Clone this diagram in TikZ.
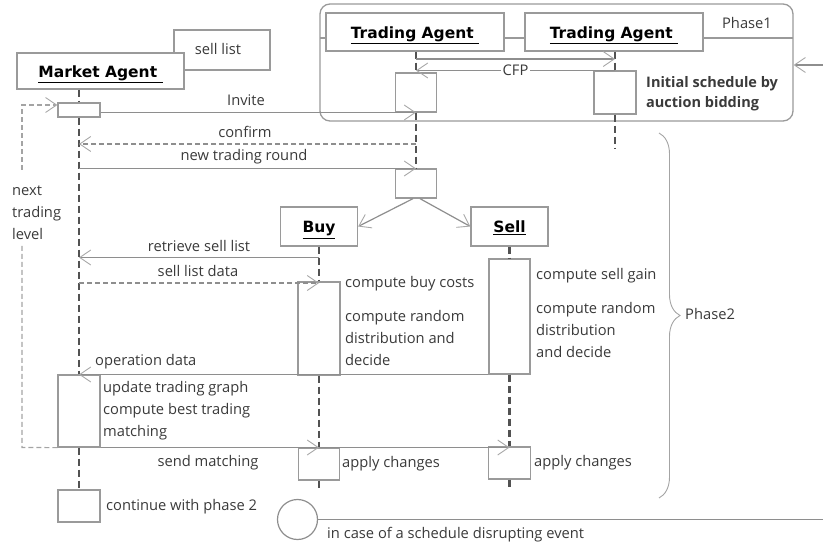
\documentclass[tikz,border=0pt]{standalone}
\usepackage{fontspec}
\setmainfont{Open Sans}
\newfontfamily\headfont{DejaVu Sans}
\usetikzlibrary{arrows.meta,decorations.pathreplacing,calc}

\definecolor{boxgray}{HTML}{9A9A9A}
\definecolor{msggray}{HTML}{8E8E8E}
\definecolor{tipgray}{HTML}{A8A8A8}
\definecolor{lifegray}{HTML}{525252}
\definecolor{txtgray}{HTML}{3A3A3A}
\definecolor{loopgray}{HTML}{A4A4A4}

\tikzset{
  box/.style={draw=boxgray, line width=1.3pt, fill=white, inner sep=0pt},
  actbox/.style={box, minimum width=42pt},
  headbox/.style={box, font=\headfont\bfseries\fontsize{15.5}{17}\selectfont, text=black,
                  text height=15pt, text depth=2pt},
  lifeline/.style={draw=lifegray, line width=2.8pt, dash pattern=on 7pt off 4pt},
  barb/.tip={Straight Barb[length=11pt,width=15pt,line width=0.9pt,color=tipgray]},
  msg/.style={draw=msggray, line width=1.2pt, -barb},
  reply/.style={msg, dash pattern=on 5pt off 3pt},
  plain/.style={draw=msggray, line width=1.2pt},
  lbl/.style={text=txtgray, font=\fontsize{14.7}{22}\selectfont, inner sep=0pt},
  note/.style={lbl, anchor=west, align=left},
  boldnote/.style={note, font=\bfseries\fontsize{14.5}{20}\selectfont},
}

\begin{document}
\begin{tikzpicture}[x=1pt, y=-1pt]
\useasboundingbox (0,0) rectangle (823,548);

% ---------- Phase 1 frame ----------
\node[draw=boxgray, line width=1.3pt, rounded corners=10pt, minimum width=473pt,
      minimum height=117pt, inner sep=0pt] (ph1) at (556.5,62.5) {};
\draw[draw=boxgray, line width=1.3pt] (320,38) -- (793,38);
\node[lbl] (ph1lbl) at (747,23) {Phase1};

% ---------- heads ----------
\node[box, minimum width=96pt, minimum height=40pt] (sl) at (222,50) {};
\node[lbl] (sltxt) at (218,49) {sell list};
\node[headbox, minimum width=167pt, minimum height=36pt] (ma) at (100.5,71) {\underline{Market Agent~}};
\node[headbox, minimum width=178pt, minimum height=38pt] (ta1) at (415,32) {\underline{Trading Agent~}};
\node[headbox, minimum width=178pt, minimum height=38pt] (ta2) at (614,32) {\underline{Trading Agent~}};

% ---------- activation boxes ----------
\node[actbox, minimum height=14pt] (ma1) at (79,110) {};
\node[actbox, minimum width=41pt, minimum height=39pt] (ta1a) at (416,92.5) {};
\node[actbox, minimum height=43pt] (ta2a) at (615,92.5) {};
\node[actbox, minimum width=41pt, minimum height=29pt] (ta1b) at (416,183.5) {};
\node[headbox, minimum width=77pt, minimum height=39pt] (buy) at (319,226.5) {\underline{Buy}};
\node[headbox, minimum width=77pt, minimum height=39pt] (sell) at (509.5,226.5) {\underline{Sell}};
\node[actbox, minimum height=93pt] (buyA) at (319,328.5) {};
\node[actbox, minimum width=41pt, minimum height=115pt] (sellA) at (509.5,316.5) {};
\node[actbox, minimum height=72pt] (maB) at (79,411) {};
\node[actbox, minimum width=41pt, minimum height=32pt] (buyC) at (319,464) {};
\node[actbox, minimum height=32pt] (sellC) at (509.5,463) {};
\node[actbox, minimum height=32pt] (cont) at (79,506) {};

% ---------- lifelines ----------
\draw[lifeline] (ma1.north |- ma.south) -- (ma1.north);
\draw[lifeline] (ma1.south) -- (maB.north);
\draw[lifeline] (maB.south) -- (cont.north);
\draw[lifeline] (ta1a.north |- ta1.south) -- (ta1a.north);
\draw[lifeline] (ta1a.south) -- (ta1b.north);
\draw[lifeline] (ta2a.north |- ta2.south) -- (ta2a.north);
\coordinate (ta2end) at (615,149);
\draw[lifeline] (ta2a.south) -- (ta2end);
\draw[lifeline] (buy.south) -- (buyA.north);
\draw[lifeline] (buyA.south) -- (buyC.north);
\coordinate (buyend) at (319,490);
\draw[lifeline] (buyC.south) -- (buyend);
\draw[lifeline] (sell.south) -- (sellA.north);
\draw[lifeline] (sellA.south) -- (sellC.north);
\coordinate (sellend) at (509.5,490);
\draw[lifeline] (sellC.south) -- (sellend);

% ---------- Phase 1 messages ----------
\coordinate (yA) at (0,59);
\coordinate (yB) at (0,70.5);
\draw[msg] (ta1a.north |- yA) -- (ta2a.north |- yA);
\draw[msg] (ta2a.north |- yB) -- node[lbl, fill=white, inner xsep=2pt] (cfp) {CFP} (ta1a.north |- yB);
\node[boldnote] (init) at (646,94) {Initial schedule by\\auction bidding};
\coordinate (p1in) at (823,65);
\draw[msg] (p1in) -- (ph1.east |- p1in);

% ---------- Phase 2 messages ----------
\coordinate (yInv) at (0,112.5);
\draw[msg] (ma1.east |- yInv) -- (ta1a.south |- yInv);
\node[lbl] (inv) at (246,100) {Invite};

\coordinate (yConf) at (0,144);
\draw[reply] (ta1a.south |- yConf) -- (ma1.south |- yConf);
\node[lbl] (conf) at (245,132) {confirm};

\coordinate (yNew) at (0,168.5);
\draw[msg] (ma1.south |- yNew) -- (ta1b.north |- yNew);
\node[lbl] (newr) at (244,157) {new trading round};

\draw[msg] ([xshift=-3pt]ta1b.south) -- (buy.east);
\draw[msg] ([xshift=4pt]ta1b.south) -- (sell.west);

\coordinate (yRet) at (0,257.5);
\draw[msg] (buy.south |- yRet) -- (ma1.south |- yRet);
\node[lbl] (ret) at (199,246) {retrieve sell list};

\coordinate (yData) at (0,283);
\draw[reply] (ma1.south |- yData) -- (buyA.north |- yData);
\node[lbl] (sld) at (198,271) {sell list data};

\node[note] (buytxt) at (345,284) {compute buy costs};
\node[note] (buytxt2) at (345,338) {compute random\\distribution and\\decide};
\node[note] (selltxt) at (536,276) {compute sell gain};
\node[note] (selltxt2) at (536,329.5) {compute random\\distribution\\and decide};

\coordinate (yOp) at (0,374.5);
\draw[msg] (sellA.south west |- yOp) -- (ma1.south |- yOp);
\node[note] (op) at (95,362) {operation data};

\node[note] (upd) at (103,411) {update trading graph\\compute best trading\\matching};

% dashed loop back to the next trading level
\node[note] (nextlvl) at (12,213) {next\\trading\\level};
\coordinate (loopA) at (22,447.5);
\coordinate (loopB) at (22,243);
\coordinate (loopC) at (22,170);
\coordinate (loopD) at (22,105);
\draw[draw=loopgray, line width=1.2pt, dash pattern=on 5pt off 3pt] (maB.south west) -- (loopA) -- (loopB);
\draw[draw=loopgray, line width=1.2pt, dash pattern=on 5pt off 3pt, -barb] (loopC) -- (loopD) -- (ma1.west |- loopD);

\coordinate (ySend) at (0,447.5);
\draw[msg] (maB.east |- ySend) -- (sellC.north |- ySend);
\draw[msg] (maB.east |- ySend) -- (buyC.north |- ySend);
\node[lbl] (sendm) at (208,463) {send matching};
\node[note] (app1) at (342,464) {apply changes};
\node[note] (app2) at (534,463) {apply changes};

\node[note] (contxt) at (106,507) {continue with phase 2};

% ---------- disrupting event ----------
\node[circle, draw=msggray, line width=1.2pt, minimum size=40pt, inner sep=0pt] (ev) at (297.5,519.5) {};
\coordinate (evend) at (823,519.5);
\draw[plain] (ev.east) -- (evend);
\node[note] (evtxt) at (327,535) {in case of a schedule disrupting event};

% ---------- Phase 2 brace ----------
\draw[draw=loopgray, line width=0.9pt, decorate, decoration={brace, amplitude=21pt, aspect=0.5}] (659,133) -- (659,498);
\node[note] (ph2) at (685,314) {Phase2};

\end{tikzpicture}
\end{document}
